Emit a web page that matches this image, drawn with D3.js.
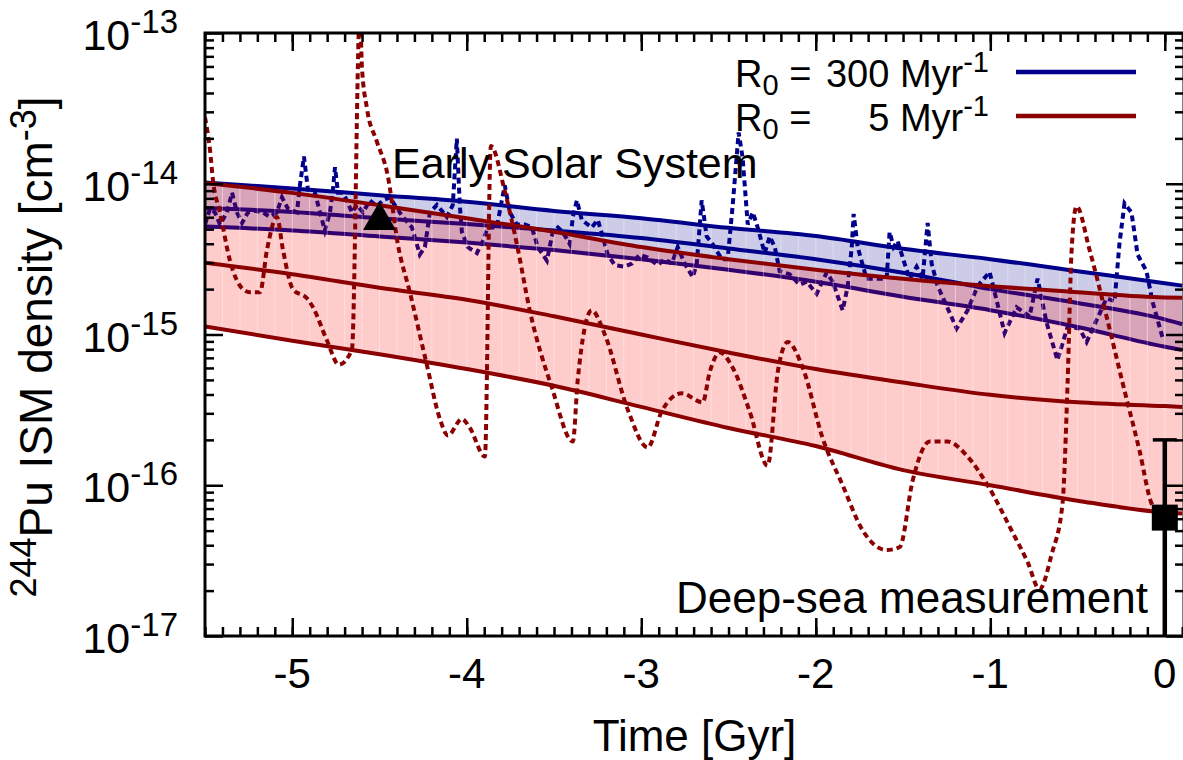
<!DOCTYPE html>
<html>
<head>
<meta charset="utf-8">
<script src="https://cdn.jsdelivr.net/npm/d3@7"></script>
<style>
body { margin: 0; background: #fff; }
svg text { font-family: "Liberation Sans", Arial, Helvetica, sans-serif; fill: #000; }
</style>
</head>
<body>
<svg id="chart" width="1183" height="760"></svg>
<script>

// time in Gyr, densities in cm^-3
var timeGrid = [-5.5, -5, -4.5, -4, -3.5, -3, -2.5, -2, -1.5, -1, -0.5, 0, 0.1];

// R0 = 300 / Myr band
var blueUpper  = [1.02e-14, 9.3e-15, 8.4e-15, 7.6e-15, 6.6e-15, 5.9e-15, 5.1e-15, 4.5e-15, 3.7e-15, 3.16e-15, 2.63e-15, 2.19e-15, 2.11e-15];
var blueMedian = [6.9e-15, 6.5e-15, 5.9e-15, 5.4e-15, 4.9e-15, 4.37e-15, 3.72e-15, 3.16e-15, 2.57e-15, 2.0e-15, 1.62e-15, 1.26e-15, 1.17e-15];
var blueLower  = [5.2e-15, 4.9e-15, 4.47e-15, 4.07e-15, 3.63e-15, 3.16e-15, 2.69e-15, 2.24e-15, 1.78e-15, 1.45e-15, 1.12e-15, 8.3e-16, 7.9e-16];

// R0 = 5 / Myr band
var redUpper  = [1.01e-14, 8.7e-15, 7.2e-15, 5.9e-15, 4.8e-15, 3.8e-15, 3.16e-15, 2.69e-15, 2.34e-15, 2.09e-15, 1.91e-15, 1.76e-15, 1.75e-15];
var redMedian = [2.99e-15, 2.51e-15, 2.04e-15, 1.7e-15, 1.32e-15, 1.0e-15, 7.6e-16, 5.9e-16, 4.8e-16, 3.98e-16, 3.55e-16, 3.35e-16, 3.31e-16];
var redLower  = [1.13e-15, 9.1e-16, 7.4e-16, 5.9e-16, 4.57e-16, 3.31e-16, 2.4e-16, 1.82e-16, 1.26e-16, 1.0e-16, 7.9e-17, 6.6e-17, 6.5e-17];

// single realisations (log10 of density)
var blueRunTime = [-5.5, -5.471, -5.443, -5.414, -5.374, -5.345, -5.317, -5.288, -5.254, -5.214, -5.168, -5.128, -5.088, -5.059, -5.025, -4.973, -4.956, -4.933, -4.910, -4.870, -4.841, -4.813, -4.784, -4.767, -4.755, -4.738, -4.710, -4.687, -4.658, -4.629, -4.595, -4.555, -4.515, -4.481, -4.440, -4.400, -4.366, -4.314, -4.269, -4.240, -4.211, -4.171, -4.114, -4.080, -4.057, -4.040, -4.028, -3.994, -3.942, -3.908, -3.879, -3.828, -3.799, -3.782, -3.753, -3.713, -3.667, -3.627, -3.593, -3.541, -3.507, -3.478, -3.450, -3.410, -3.392, -3.369, -3.341, -3.284, -3.249, -3.221, -3.192, -3.152, -3.095, -3.054, -3.009, -2.963, -2.906, -2.865, -2.825, -2.791, -2.751, -2.705, -2.682, -2.654, -2.625, -2.591, -2.539, -2.505, -2.476, -2.442, -2.419, -2.390, -2.361, -2.333, -2.293, -2.264, -2.235, -2.207, -2.150, -2.092, -2.052, -1.995, -1.938, -1.903, -1.846, -1.817, -1.794, -1.783, -1.760, -1.709, -1.651, -1.594, -1.577, -1.554, -1.531, -1.491, -1.462, -1.422, -1.388, -1.359, -1.336, -1.302, -1.262, -1.193, -1.130, -1.073, -1.004, -0.918, -0.849, -0.775, -0.729, -0.678, -0.615, -0.557, -0.489, -0.448, -0.334, -0.288, -0.260, -0.231, -0.191, -0.156, -0.105, -0.071, -0.013];
var blueRunLog10 = [-14.27, -14.165, -14.19, -14.27, -14.19, -14.06, -14.19, -14.26, -14.19, -14.18, -14.19, -14.22, -14.19, -14.09, -14.165, -14.19, -14.01, -13.82, -14.04, -14.06, -14.19, -14.31, -14.19, -14.04, -13.89, -14.06, -14.06, -14.11, -14.19, -14.14, -14.19, -14.11, -14.15, -14.11, -14.09, -14.165, -14.22, -14.29, -14.47, -14.42, -14.19, -14.14, -14.22, -14.14, -13.70, -14.14, -14.32, -14.42, -14.46, -14.38, -14.29, -14.29, -14.11, -14.01, -14.19, -14.27, -14.27, -14.29, -14.42, -14.51, -14.32, -14.29, -14.32, -14.40, -14.22, -14.11, -14.24, -14.29, -14.24, -14.35, -14.47, -14.54, -14.55, -14.53, -14.47, -14.49, -14.54, -14.50, -14.53, -14.42, -14.53, -14.62, -14.53, -14.11, -14.35, -14.40, -14.50, -14.50, -14.14, -13.66, -13.83, -14.27, -14.19, -14.29, -14.46, -14.35, -14.42, -14.58, -14.60, -14.67, -14.65, -14.73, -14.59, -14.65, -14.84, -14.68, -14.42, -14.20, -14.42, -14.63, -14.63, -14.63, -14.32, -14.42, -14.38, -14.53, -14.63, -14.55, -14.63, -14.26, -14.53, -14.68, -14.78, -14.96, -14.84, -14.68, -14.585, -14.99, -14.82, -14.88, -14.63, -14.92, -15.17, -14.95, -14.96, -15.05, -14.76, -14.78, -14.40, -14.13, -14.19, -14.47, -14.58, -14.78, -15.02];

var redRunTime = [-5.5, -5.471, -5.454, -5.414, -5.357, -5.282, -5.242, -5.185, -5.145, -5.088, -5.053, -4.996, -4.916, -4.881, -4.801, -4.733, -4.658, -4.612, -4.601, -4.572, -4.515, -4.452, -4.395, -4.326, -4.229, -4.154, -4.108, -4.028, -3.982, -3.896, -3.862, -3.782, -3.713, -3.639, -3.513, -3.392, -3.364, -3.284, -3.209, -3.077, -2.963, -2.883, -2.768, -2.648, -2.608, -2.550, -2.476, -2.379, -2.276, -2.218, -2.161, -2.075, -1.960, -1.846, -1.731, -1.594, -1.519, -1.445, -1.348, -1.245, -1.130, -1.015, -0.878, -0.786, -0.718, -0.649, -0.586, -0.557, -0.534, -0.506, -0.431, -0.334, -0.242, -0.145, -0.076, 0];
var redRunLog10 = [-13.56, -13.78, -13.98, -14.19, -14.51, -14.70, -14.72, -14.72, -14.44, -14.22, -14.44, -14.70, -14.76, -14.82, -15.04, -15.20, -15.10, -12.85, -13.22, -13.50, -13.72, -13.95, -14.40, -14.72, -15.20, -15.56, -15.67, -15.56, -15.62, -15.81, -13.75, -14.05, -14.40, -14.84, -15.35, -15.71, -15.30, -14.84, -15.00, -15.50, -15.75, -15.51, -15.39, -15.45, -15.25, -15.12, -15.22, -15.51, -15.87, -15.25, -15.05, -15.22, -15.69, -16.00, -16.30, -16.43, -16.41, -15.97, -15.71, -15.71, -15.81, -16.00, -16.30, -16.51, -16.69, -16.46, -16.12, -15.32, -14.44, -14.15, -14.44, -14.88, -15.32, -15.77, -16.12, -16.22];

// measurements
var solarTime = -4.5, solarValue = 5.7e-15;
var deepSeaTime = 0, deepSeaValue = 6.1e-17, deepSeaHigh = 2e-16, deepSeaLow = 1e-18;

var xTicks = [-5, -4, -3, -2, -1, 0];
var yDecades = [-13, -14, -15, -16, -17];
var legendRates = ['300', '5'];

var blue = '#00008b', red = '#8b0000';
// plot frame (named so they do not clash with window.top)
var pLeft = 205, pRight = 1184, pTop = 33, pBottom = 636;

var svg = d3.select('#chart');

var x = d3.scaleLinear().domain([-5.5, 0.11]).range([pLeft, pRight]);
var y = d3.scaleLog().domain([1e-17, 1e-13]).range([pBottom, pTop]);

svg.append('clipPath').attr('id', 'plotClip')
	.append('rect').attr('x', pLeft).attr('y', pTop).attr('width', pRight - pLeft).attr('height', pBottom - pTop);

var plot = svg.append('g').attr('clip-path', 'url(#plotClip)');

function band(upper, lower) {
	return d3.area()
		.x(function(d, i) { return x(timeGrid[i]); })
		.y0(function(d, i) { return y(lower[i]); })
		.y1(function(d, i) { return y(upper[i]); })
		.curve(d3.curveMonotoneX)(upper);
}

function curve(values) {
	return d3.line()
		.x(function(d, i) { return x(timeGrid[i]); })
		.y(function(d) { return y(d); })
		.curve(d3.curveMonotoneX)(values);
}

function run(times, logs, shape) {
	return d3.line()
		.x(function(d, i) { return x(times[i]); })
		.y(function(d) { return y(Math.pow(10, d)); })
		.curve(shape)(logs);
}

// faint seams like the gnuplot filled strips
var seamTimes = d3.range(-54, 2).map(function(i) { return i / 10; });
function seams(id) {
	plot.append('g').attr('clip-path', 'url(#' + id + ')')
		.selectAll('line').data(seamTimes).enter().append('line')
		.attr('x1', function(d) { return x(d); }).attr('x2', function(d) { return x(d); })
		.attr('y1', pTop).attr('y2', pBottom)
		.attr('stroke', '#fff').attr('stroke-opacity', 0.35).attr('stroke-width', 1);
}

svg.append('clipPath').attr('id', 'blueBand').append('path').attr('d', band(blueUpper, blueLower));
svg.append('clipPath').attr('id', 'redBand').append('path').attr('d', band(redUpper, redLower));

// blue band first, the red one is laid over it
plot.append('path').attr('d', band(blueUpper, blueLower)).attr('fill', blue).attr('fill-opacity', 0.2);
seams('blueBand');
[blueUpper, blueMedian, blueLower].forEach(function(s) {
	plot.append('path').attr('d', curve(s)).attr('fill', 'none').attr('stroke', blue).attr('stroke-width', 4);
});
plot.append('path').attr('d', run(blueRunTime, blueRunLog10, d3.curveLinear))
	.attr('fill', 'none').attr('stroke', blue).attr('stroke-width', 4)
	.attr('stroke-dasharray', '6,4');

plot.append('path').attr('d', band(redUpper, redLower)).attr('fill', '#ff0000').attr('fill-opacity', 0.2);
seams('redBand');
[redUpper, redMedian, redLower].forEach(function(s) {
	plot.append('path').attr('d', curve(s)).attr('fill', 'none').attr('stroke', red).attr('stroke-width', 4);
});
plot.append('path').attr('d', run(redRunTime, redRunLog10, d3.curveMonotoneX))
	.attr('fill', 'none').attr('stroke', red).attr('stroke-width', 4)
	.attr('stroke-dasharray', '6,4');

// early solar system
plot.append('path')
	.attr('d', d3.symbol().type(d3.symbolTriangle).size(470)())
	.attr('transform', 'translate(' + x(solarTime) + ',' + y(solarValue) + ')')
	.attr('fill', '#000');

// deep-sea point with error bar
var dx = x(deepSeaTime);
plot.append('line').attr('x1', dx).attr('x2', dx)
	.attr('y1', y(deepSeaHigh)).attr('y2', y(deepSeaLow))
	.attr('stroke', '#000').attr('stroke-width', 4.5);
plot.append('line').attr('x1', dx - 12).attr('x2', dx + 12)
	.attr('y1', y(deepSeaHigh)).attr('y2', y(deepSeaHigh))
	.attr('stroke', '#000').attr('stroke-width', 3.5);
plot.append('rect').attr('x', dx - 13).attr('y', y(deepSeaValue) - 13)
	.attr('width', 26).attr('height', 26).attr('fill', '#000');

// ticks on all four sides, pointing inward
var xMinor = d3.range(-55, 2).map(function(i) { return i / 10; });
var yMinor = [];
yDecades.slice(1).forEach(function(n) {
	for (var k = 2; k <= 9; k++) yMinor.push(k * Math.pow(10, n));
});
var yMajor = yDecades.map(function(n) { return Math.pow(10, n); });

function ticks(axis, values, size, tx, ty) {
	svg.append('g').attr('transform', 'translate(' + tx + ',' + ty + ')')
		.call(axis.tickValues(values).tickSize(-size).tickFormat(''))
		.call(function(g) {
			g.select('.domain').remove();
			g.selectAll('line').attr('stroke', '#000').attr('stroke-width', 2.5);
		});
}
ticks(d3.axisBottom(x), xMinor, 9, 0, pBottom);
ticks(d3.axisBottom(x), xTicks, 18, 0, pBottom);
ticks(d3.axisTop(x), xMinor, 9, 0, pTop);
ticks(d3.axisTop(x), xTicks, 18, 0, pTop);
ticks(d3.axisLeft(y), yMinor, 9, pLeft, 0);
ticks(d3.axisLeft(y), yMajor, 18, pLeft, 0);
ticks(d3.axisRight(y), yMinor, 9, pRight, 0);
ticks(d3.axisRight(y), yMajor, 18, pRight, 0);

svg.append('rect').attr('x', pLeft).attr('y', pTop)
	.attr('width', pRight - pLeft).attr('height', pBottom - pTop)
	.attr('fill', 'none').attr('stroke', '#000').attr('stroke-width', 3);

// tick labels
svg.selectAll('.xlab').data(xTicks).enter().append('text')
	.attr('x', function(d) { return x(d); }).attr('y', 688)
	.attr('text-anchor', 'middle').attr('font-size', 42)
	.text(function(d) { return String(d); });

yDecades.forEach(function(n) {
	var t = svg.append('text').attr('x', 178).attr('y', y(Math.pow(10, n)) + 17)
		.attr('text-anchor', 'end').attr('font-size', 43);
	t.append('tspan').text('10');
	t.append('tspan').attr('dy', -17).attr('font-size', 33).text(String(n));
});

// axis titles
svg.append('text').attr('x', (pLeft + pRight) / 2).attr('y', 751)
	.attr('text-anchor', 'middle').attr('font-size', 44).text('Time [Gyr]');

var yt = svg.append('text').attr('transform', 'translate(52,347) rotate(-90)')
	.attr('text-anchor', 'middle').attr('font-size', 46);
yt.append('tspan').attr('dy', -16).attr('font-size', 36).text('244');
yt.append('tspan').attr('dy', 16).text('Pu ISM density [cm');
yt.append('tspan').attr('dy', -16).attr('font-size', 36).text('-3');
yt.append('tspan').attr('dy', 16).text(']');

// annotations
svg.append('text').attr('x', 392).attr('y', 178).attr('font-size', 43).text('Early Solar System');
svg.append('text').attr('x', 676).attr('y', 613).attr('font-size', 44).text('Deep-sea measurement');

// legend
legendRates.forEach(function(rate, i) {
	var ly = 87 + i * 44;
	var a = svg.append('text').attr('x', 735).attr('y', ly).attr('font-size', 38);
	a.append('tspan').text('R');
	a.append('tspan').attr('dy', 8).attr('font-size', 29).text('0');
	a.append('tspan').attr('dy', -8).text(' =');
	var b = svg.append('text').attr('x', 989).attr('y', ly).attr('font-size', 38).attr('text-anchor', 'end');
	b.append('tspan').text(rate + ' Myr');
	b.append('tspan').attr('dy', -15).attr('font-size', 29).text('-1');
	svg.append('line').attr('x1', 1016).attr('x2', 1136)
		.attr('y1', ly - 15).attr('y2', ly - 15)
		.attr('stroke', i === 0 ? blue : red).attr('stroke-width', 4.5);
});

</script>
</body>
</html>
